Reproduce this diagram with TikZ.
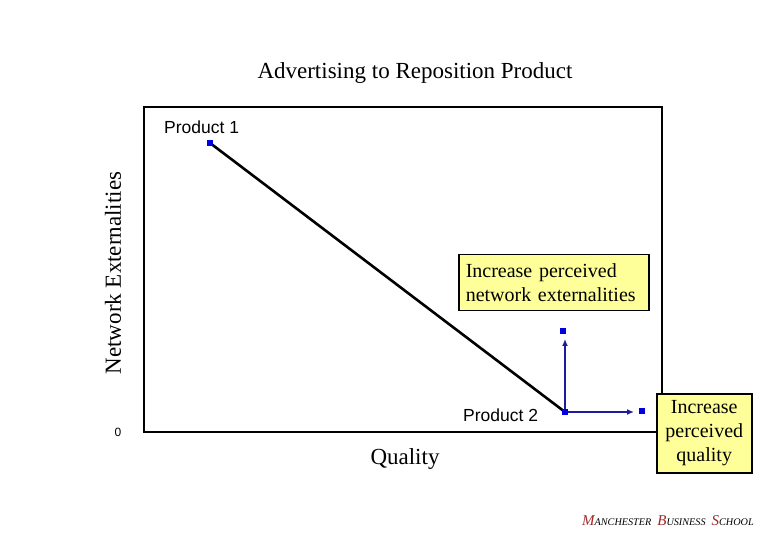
\documentclass[tikz,border=0pt]{standalone}
\usepackage{fontspec}
\setmainfont{Liberation Serif}
\newfontfamily\arialf{Liberation Sans}
\usetikzlibrary{arrows.meta}
\definecolor{boxyellow}{HTML}{FFFF99}
\definecolor{arrowblue}{HTML}{1C1C9C}
\definecolor{markblue}{HTML}{0000E0}
\definecolor{mbsred}{HTML}{A02828}
\tikzset{
  marker/.style={rectangle, fill=markblue, minimum size=6pt, inner sep=0pt},
  notebox/.style={draw=black, line width=1.5pt, fill=boxyellow, font=\fontsize{20}{24}\selectfont},
  bluearrow/.style={draw=arrowblue, line width=1.8pt, -{Latex[length=7pt,width=6pt]}, shorten >=8pt},
  sanslabel/.style={font=\arialf\fontsize{17.5}{20}\selectfont, inner sep=0pt},
  serifbig/.style={font=\fontsize{23}{26}\selectfont, inner sep=0pt}
}
\begin{document}
\begin{tikzpicture}[x=1pt,y=-1pt]
\useasboundingbox (0,0) rectangle (780,540);
% frame / axes
\draw[line width=2pt] (144,107) rectangle (662,432);
% title and axis labels
\node[serifbig] (title) at (415,73) {Advertising to Reposition Product};
\node[serifbig, rotate=90] (ylab) at (113,273) {Network Externalities};
\node[serifbig] (xlab) at (405,459) {Quality};
\node[font=\arialf\fontsize{12}{13}\selectfont, inner sep=0pt] (zero) at (118,432) {0};
% product points
\node[sanslabel, anchor=base west] (p1lab) at (164,134) {Product 1};
\node[sanslabel, anchor=base west] (p2lab) at (463,421) {Product 2};
\coordinate (p1c) at (210,143);
\coordinate (p2c) at (565,412);
\draw[line width=2.6pt] (p1c) -- (p2c);
\node[marker] (p1) at (p1c) {};
\node[marker] (up) at (563,331) {};
\node[marker] (right) at (642,411) {};
\draw[bluearrow] (p2c) -- (p2c |- up);
\draw[bluearrow] (p2c) -- (p2c -| right);
\node[marker] (p2) at (p2c) {};
% note boxes
\node[notebox, anchor=north west, text width=176pt, inner xsep=7pt, inner ysep=2pt, minimum height=56pt, align=left] (netbox) at (458,254) {Increase perceived\\network externalities};
\node[notebox, anchor=north west, minimum width=95pt, minimum height=79pt, inner sep=2pt, align=center] (qualbox) at (656,393) {Increase\\perceived\\quality};
% footer
\node[anchor=base west, inner sep=0pt, font=\itshape] (footer) at (582,525) {%
{\color{mbsred}\fontsize{15}{16}\selectfont M}{\fontsize{10.2}{11}\selectfont ANCHESTER}\hspace{6pt}%
{\color{mbsred}\fontsize{15}{16}\selectfont B}{\fontsize{10.2}{11}\selectfont USINESS}\hspace{6pt}%
{\color{mbsred}\fontsize{15}{16}\selectfont S}{\fontsize{10.2}{11}\selectfont CHOOL}};
\end{tikzpicture}
\end{document}
